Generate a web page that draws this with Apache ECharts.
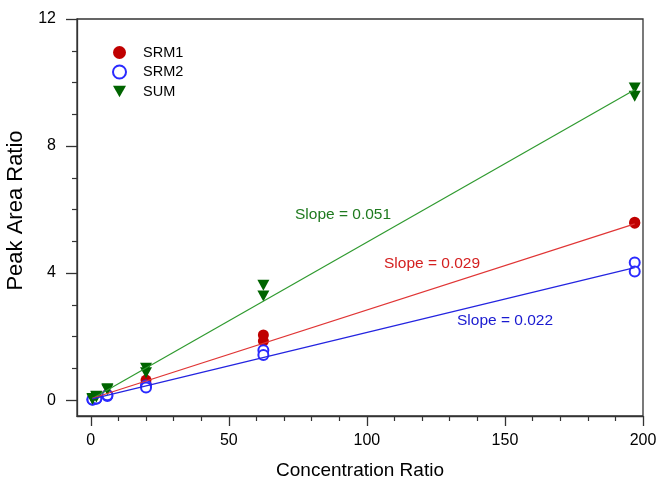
<!DOCTYPE html>
<html>
<head>
<meta charset="utf-8">
<script src="https://cdn.jsdelivr.net/npm/echarts@6/dist/echarts.min.js"></script>
<style>
  html, body { margin: 0; padding: 0; background: #fff; }
  #chart { width: 657px; height: 485px; }
</style>
</head>
<body>
<div id="chart"></div>
<script>
// concentration ratios (duplicate injections)
const concX = [0.6, 0.6, 2, 2, 6, 6, 20, 20, 62.5, 62.5, 197, 197]
const srm1 = [0.02, 0.03, 0.06, 0.07, 0.16, 0.18, 0.63, 0.5, 2.05, 1.86, 5.57, 5.6]
const srm2 = [0.01, 0.02, 0.04, 0.05, 0.13, 0.15, 0.46, 0.4, 1.57, 1.42, 4.33, 4.05]
const sum = [0.03, 0.05, 0.1, 0.12, 0.33, 0.36, 1.0, 0.86, 3.62, 3.28, 9.83, 9.57]

// fitted lines, drawn between first and last concentration
const fitX = [0.6, 197]
const fitSrm1 = [0.06, 5.55]
const fitSrm2 = [0.04, 4.17]
const fitSum = [0.05, 9.77]

const xMajor = [0, 50, 100, 150, 200]
const xMinor = [10, 20, 30, 40, 60, 70, 80, 90, 110, 120, 130, 140, 160, 170, 180, 190]
const yMajor = [0, 4, 8, 12]
const yMinor = [1, 2, 3, 5, 6, 7, 9, 10, 11]

const pair = (xs, ys) => xs.map((x, i) => [x, ys[i]])

const axisColor = '#333'
const tri = 'path://M0,0 L10,0 L5,9 Z'
const font = 'Liberation Sans'

const chart = echarts.init(document.getElementById('chart'))

const baseX = {
  type: 'value', min: -5, max: 200, position: 'bottom',
  splitLine: {show: false}
}
const baseY = {
  type: 'value', min: -0.5, max: 12, position: 'left',
  splitLine: {show: false}
}

chart.setOption({
  animation: false,
  grid: {
    left: 77, right: 14, top: 19, bottom: 69,
    outerBoundsMode: 'none', containLabel: false,
    show: true, borderColor: axisColor, borderWidth: 1.3, backgroundColor: 'transparent'
  },
  legend: {
    data: ['SRM1', 'SRM2', 'SUM'],
    orient: 'vertical',
    left: 112, top: 45, padding: 0,
    itemWidth: 13, itemHeight: 13, itemGap: 4.5,
    textStyle: {fontFamily: font, fontSize: 14.5, color: '#000', padding: [0, 0, 0, 12]}
  },
  xAxis: [
    Object.assign({}, baseX, {
      name: 'Concentration Ratio', nameLocation: 'middle', nameGap: 45,
      nameTextStyle: {fontFamily: font, fontSize: 19, color: '#000'},
      axisLine: {show: true, onZero: false, lineStyle: {color: axisColor, width: 1.3}},
      axisTick: {show: true, inside: false, length: 10, customValues: xMajor, lineStyle: {color: axisColor, width: 1.3}},
      axisLabel: {customValues: xMajor, margin: 17, fontFamily: font, fontSize: 16, color: '#000'}
    }),
    Object.assign({}, baseX, {
      axisLine: {show: false, onZero: false},
      axisTick: {show: true, length: 5, customValues: xMinor, lineStyle: {color: axisColor, width: 1.2}},
      axisLabel: {show: false}
    })
  ],
  yAxis: [
    Object.assign({}, baseY, {
      name: 'Peak Area Ratio', nameLocation: 'middle', nameGap: 47, nameRotate: 90,
      nameTextStyle: {fontFamily: font, fontSize: 22, color: '#000', padding: [0, 0, 0, 14]},
      axisLine: {show: true, onZero: false, lineStyle: {color: axisColor, width: 1.3}},
      axisTick: {show: true, inside: false, length: 11, customValues: yMajor, lineStyle: {color: axisColor, width: 1.3}},
      axisLabel: {customValues: yMajor, margin: 21, fontFamily: font, fontSize: 16, color: '#000'}
    }),
    Object.assign({}, baseY, {
      axisLine: {show: false, onZero: false},
      axisTick: {show: true, length: 5, customValues: yMinor, lineStyle: {color: axisColor, width: 1.2}},
      axisLabel: {show: false}
    })
  ],
  series: [
    {
      type: 'line', data: pair(fitX, fitSum), showSymbol: false, silent: true,
      lineStyle: {color: '#2f9a2f', width: 1.2}
    },
    {
      type: 'line', data: pair(fitX, fitSrm1), showSymbol: false, silent: true,
      lineStyle: {color: '#e03535', width: 1.2}
    },
    {
      type: 'line', data: pair(fitX, fitSrm2), showSymbol: false, silent: true,
      lineStyle: {color: '#2424e0', width: 1.2}
    },
    {
      name: 'SRM1', type: 'scatter', data: pair(concX, srm1),
      symbol: 'circle', symbolSize: 11,
      itemStyle: {color: '#c00000', opacity: 1}
    },
    {
      name: 'SRM2', type: 'scatter', data: pair(concX, srm2),
      symbol: 'emptyCircle', symbolSize: 10,
      itemStyle: {color: '#2a2aff', borderColor: '#2a2aff', borderWidth: 1.4, opacity: 1}
    },
    {
      name: 'SUM', type: 'scatter', data: pair(concX, sum),
      symbol: tri, symbolSize: [12, 11],
      itemStyle: {color: '#006400', opacity: 1}
    }
  ],
  graphic: [
    {type: 'text', x: 295, y: 215, style: {text: 'Slope = 0.051', fill: '#1f7a1f', font: '15.5px "Liberation Sans"', verticalAlign: 'middle'}},
    {type: 'text', x: 384, y: 264, style: {text: 'Slope = 0.029', fill: '#d42020', font: '15.5px "Liberation Sans"', verticalAlign: 'middle'}},
    {type: 'text', x: 457, y: 321, style: {text: 'Slope = 0.022', fill: '#1a1ad0', font: '15.5px "Liberation Sans"', verticalAlign: 'middle'}}
  ]
})
</script>
</body>
</html>
